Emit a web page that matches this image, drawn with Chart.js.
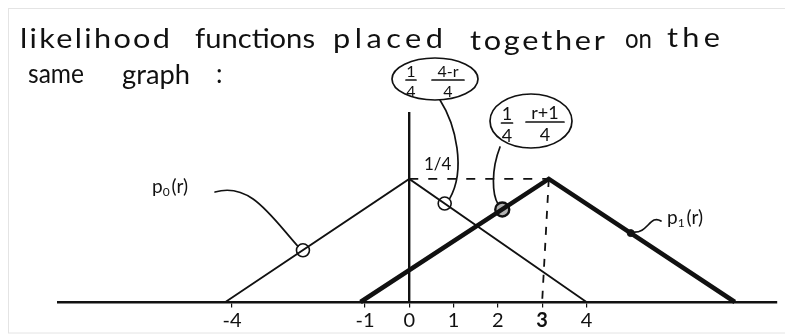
<!DOCTYPE html>
<html>
<head>
<meta charset="utf-8">
<script src="https://cdn.jsdelivr.net/npm/chart.js@4/dist/chart.umd.min.js"></script>
<style>
  html, body { margin: 0; padding: 0; background: #fff; }
  #wrap { width: 785px; height: 336px; position: relative; }
</style>
</head>
<body>
<div id="wrap"><canvas id="likelihood"></canvas></div>
<script>
// r on the horizontal axis, and the two triangular likelihoods
const tickValues = [-4, -1, 0, 1, 2, 3, 4];
const p0R = [-4.15, 0, 4];
const p0Y = [0, 0.25, 0];
const p1R = [-1.1, 3.15, 7.35];
const p1Y = [0, 0.25, 0];

// dashed guides at the peaks
const levelR = [0, 3.15];
const levelY = [0.25, 0.25];
const dropR = [3.15, 3];
const dropY = [0.25, 0];

// circled points the notes point at
const markR = [-2.4, 0.8, 2.1, 5.0];
const markY = [0.105, 0.2, 0.188, 0.14];

const pts = (xs, ys) => xs.map((x, i) => ({x: x, y: ys[i]}));
const ink = '#111';
const hand = 'Lato, "Open Sans", sans-serif';
const headFont = '26px Lato, "Open Sans", sans-serif';

// heading, one word at a time: [text, left, right, baseline]
const heading = [
  ['likelihood', 20, 170, 48], ['functions', 195, 315, 48], ['placed', 333, 443, 48],
  ['together', 470, 605, 50], ['on', 625, 652, 48], ['the', 667, 720, 47],
  ['same', 28, 84, 83], ['graph', 122, 190, 84], [':', 216, null, 83]
];

function frac(c, cx, barY, num, den, barW, size) {
  c.font = size + 'px ' + hand;
  c.textAlign = 'center';
  c.textBaseline = 'alphabetic';
  c.fillText(num, cx, barY - 3);
  c.fillText(den, cx, barY + size + 1);
  c.beginPath();
  c.moveTo(cx - barW / 2, barY);
  c.lineTo(cx + barW / 2, barY);
  c.stroke();
}

function pLabel(c, x, base, sub) {
  c.textAlign = 'left';
  c.textBaseline = 'alphabetic';
  c.font = '19px ' + hand;
  c.fillText('p', x, base);
  let w = c.measureText('p').width;
  c.font = '12px ' + hand;
  c.fillText(sub, x + w, base + 3);
  w += c.measureText(sub).width + 2;
  c.font = '19px ' + hand;
  c.fillText('(r)', x + w, base);
}

// widen a word to fill [x0, x1]: a little horizontal stretch, the rest as letter gaps
function spreadWord(c, t, x0, x1, base) {
  c.letterSpacing = '0px';
  const w = c.measureText(t).width;
  if (x1 == null) { c.fillText(t, x0, base); return; }
  const target = x1 - x0;
  const s = Math.min(target / w, 1.18);
  const gap = Math.max((target / s - w) / Math.max(t.length - 1, 1), 0);
  c.save();
  c.translate(x0, base);
  c.scale(s, 1);
  c.letterSpacing = gap + 'px';
  c.fillText(t, 0, 0);
  c.restore();
  c.letterSpacing = '0px';
}

const notes = {
  id: 'notes',
  afterDraw(chart) {
    const c = chart.ctx;
    const xs = chart.scales.x, ys = chart.scales.y;
    const at = i => ({x: xs.getPixelForValue(markR[i]), y: ys.getPixelForValue(markY[i])});
    c.save();

    // light frame of the page
    c.strokeStyle = '#e4e4e4';
    c.lineWidth = 1;
    c.strokeRect(8.5, 8.5, 800, 324.5);

    c.strokeStyle = ink;
    c.fillStyle = ink;
    c.lineCap = 'round';

    // heading
    c.textBaseline = 'alphabetic';
    c.textAlign = 'left';
    c.font = headFont;
    heading.forEach(([t, x0, x1, base]) => spreadWord(c, t, x0, x1, base));

    // peak value next to the vertical axis
    c.font = '17px ' + hand;
    c.textAlign = 'left';
    c.fillText('1/4', 424, 170);

    c.lineWidth = 1.7;
    // note for the falling side of p0
    c.beginPath();
    c.ellipse(435, 79, 43, 21, 0, 0, Math.PI * 2);
    c.stroke();
    frac(c, 411, 80, '1', '4', 10, 16);
    frac(c, 448, 80, '4-r', '4', 32, 16);
    let m = at(1);
    c.beginPath();
    c.moveTo(440, 100);
    c.bezierCurveTo(456, 125, 466, 170, m.x + 5, m.y - 5);
    c.stroke();

    // note for the rising side of p1
    c.beginPath();
    c.ellipse(531, 121, 41, 27, 0, 0, Math.PI * 2);
    c.stroke();
    frac(c, 507, 123, '1', '4', 11, 18);
    frac(c, 545, 122, 'r+1', '4', 38, 18);
    m = at(2);
    c.beginPath();
    c.moveTo(500, 147);
    c.bezierCurveTo(491, 170, 492, 195, m.x - 4, m.y - 5);
    c.stroke();

    // curve names
    pLabel(c, 152, 193, '0');
    m = at(0);
    c.beginPath();
    c.moveTo(215, 192);
    c.bezierCurveTo(250, 182, 270, 215, m.x - 5, m.y - 4);
    c.stroke();

    pLabel(c, 667, 224, '1');
    m = at(3);
    c.beginPath();
    c.moveTo(661, 221);
    c.bezierCurveTo(650, 214, 648, 234, m.x + 2, m.y - 1);
    c.stroke();

    c.restore();
  }
};

new Chart(document.getElementById('likelihood'), {
  type: 'line',
  data: {
    datasets: [
      {label: 'p0(r)', data: pts(p0R, p0Y), borderColor: ink, borderWidth: 1.8, pointRadius: 0, clip: false},
      {label: 'p1(r)', data: pts(p1R, p1Y), borderColor: ink, borderWidth: 4.5, pointRadius: 0, clip: false},
      {label: 'level 1/4', data: pts(levelR, levelY), borderColor: ink, borderWidth: 1.8,
        borderDash: [9, 10], pointRadius: 0, clip: false},
      {label: 'drop to 3', data: pts(dropR, dropY), borderColor: ink, borderWidth: 1.8,
        borderDash: [8, 8], pointRadius: 0, clip: false},
      {label: 'marked', data: pts(markR, markY), showLine: false, pointStyle: 'circle',
        pointRadius: [6.5, 6.5, 7, 3.5], pointBorderWidth: [1.6, 1.6, 2.4, 1],
        pointBorderColor: ink,
        pointBackgroundColor: ['rgba(0,0,0,0)', 'rgba(0,0,0,0)', 'rgba(0,0,0,0.3)', ink],
        clip: false}
    ]
  },
  options: {
    responsive: true,
    maintainAspectRatio: false,
    animation: false,
    layout: {padding: {left: 58, right: 5, top: 113, bottom: 34}},
    plugins: {legend: {display: false}, tooltip: {enabled: false}},
    scales: {
      x: {
        type: 'linear',
        min: -7.93,
        max: 8.3,
        position: {y: 0},
        afterBuildTicks: s => { s.ticks = tickValues.map(v => ({value: v})); },
        ticks: {
          color: ink,
          padding: 3,
          autoSkip: false,
          maxRotation: 0,
          font: ctx => ({family: hand, size: 20,
            weight: ctx.tick && ctx.tick.value === 3 ? 'bold' : 'normal'})
        },
        grid: {display: true, drawOnChartArea: false, drawTicks: true, tickLength: 4, color: ink, lineWidth: 1.2},
        border: {display: true, color: ink, width: 2.6}
      },
      y: {
        type: 'linear',
        min: 0,
        max: 0.384,
        position: {x: 0},
        ticks: {display: false},
        grid: {display: false},
        border: {display: true, color: ink, width: 2.4}
      }
    }
  },
  plugins: [notes]
});
</script>
</body>
</html>
